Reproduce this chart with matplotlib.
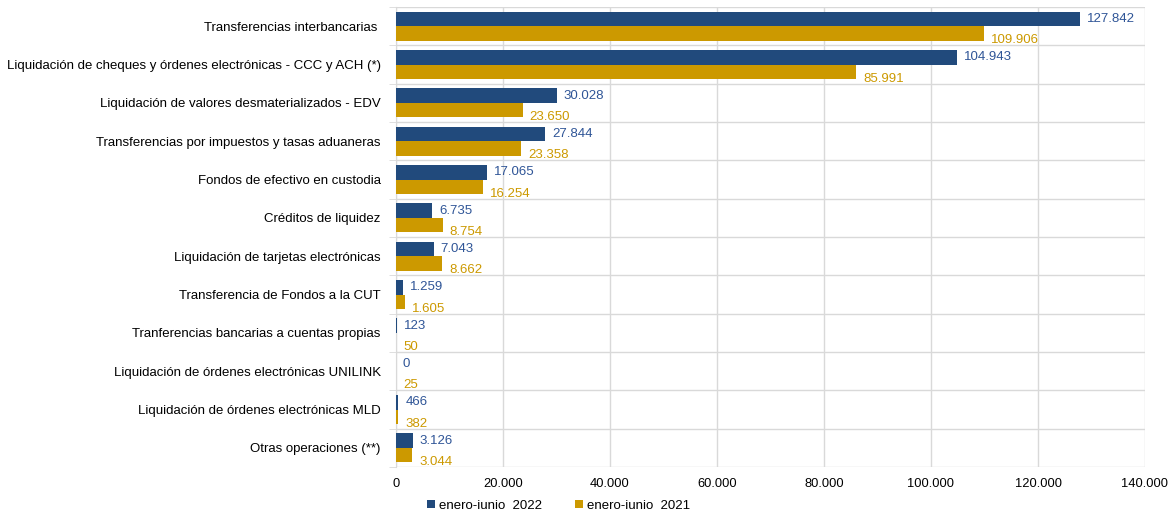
import matplotlib

matplotlib.use("Agg")
import matplotlib.pyplot as plt
from matplotlib.ticker import FuncFormatter, FixedLocator
import numpy as np

categories = [
    "Transferencias interbancarias ",
    "Liquidación de cheques y órdenes electrónicas - CCC y ACH (*)",
    "Liquidación de valores desmaterializados - EDV",
    "Transferencias por impuestos y tasas aduaneras",
    "Fondos de efectivo en custodia",
    "Créditos de liquidez",
    "Liquidación de tarjetas electrónicas",
    "Transferencia de Fondos a la CUT",
    "Tranferencias bancarias a cuentas propias",
    "Liquidación de órdenes electrónicas UNILINK",
    "Liquidación de órdenes electrónicas MLD",
    "Otras operaciones (**)",
]
values_2022 = [127842, 104943, 30028, 27844, 17065, 6735, 7043, 1259, 123, 0, 466, 3126]
values_2021 = [109906, 85991, 23650, 23358, 16254, 8754, 8662, 1605, 50, 25, 382, 3044]
series_names = ["enero-iunio  2022", "enero-iunio  2021"]

BLUE = "#214A7C"
GOLD = "#CC9900"
GRID = "#D9D9D9"


def fmt(v):
    return f"{v:,.0f}".replace(",", ".")


plt.rcParams["font.family"] = ["Liberation Sans", "DejaVu Sans"]
fig = plt.figure(figsize=(11.7, 5.16), dpi=100)
ax = fig.add_axes([396 / 1170, 1 - 467 / 516, (1145 - 396) / 1170, 460 / 516])

y = np.arange(len(categories))
h = 0.38
ax.barh(y - h / 2, values_2022, height=h, color=BLUE, label=series_names[0], zorder=3)
ax.barh(y + h / 2, values_2021, height=h, color=GOLD, label=series_names[1], zorder=3)

for yi, v in zip(y, values_2022):
    ax.annotate(fmt(v), (v, yi - h / 2), xytext=(5, 0), textcoords="offset points",
                va="center", ha="left", fontsize=9.5, color="#2F5597")
for yi, v in zip(y, values_2021):
    ax.annotate(fmt(v), (v, yi + h / 2), xytext=(5, -5), textcoords="offset points",
                va="center", ha="left", fontsize=9.5, color=GOLD)

ax.set_xlim(0, 140000)
ax.set_ylim(len(categories) - 0.5, -0.5)
ax.set_xticks(np.arange(0, 140001, 20000))
ax.xaxis.set_major_formatter(FuncFormatter(lambda v, _: fmt(v)))
ax.set_yticks(y)
ax.set_yticklabels(categories, fontsize=9.5)
ax.yaxis.set_minor_locator(FixedLocator(np.arange(-0.5, len(categories), 1.0)))
ax.tick_params(axis="y", which="major", length=0, pad=11)
ax.tick_params(axis="y", which="minor", length=5, color=GRID)
ax.tick_params(axis="x", length=0, labelsize=9.3, pad=8)
ax.grid(axis="x", which="major", color=GRID, linewidth=1, zorder=0)
ax.grid(axis="y", which="minor", color=GRID, linewidth=1, zorder=0)
for s in ["top", "right", "bottom"]:
    ax.spines[s].set_visible(False)
ax.spines["left"].set_color(GRID)

fig.legend(loc="lower left", bbox_to_anchor=(0.355, -0.015), ncol=2, frameon=False,
           fontsize=9.5, handlelength=0.6, handleheight=0.6, handletextpad=0.3,
           columnspacing=2.5)

fig.savefig("out.png", dpi=100)
